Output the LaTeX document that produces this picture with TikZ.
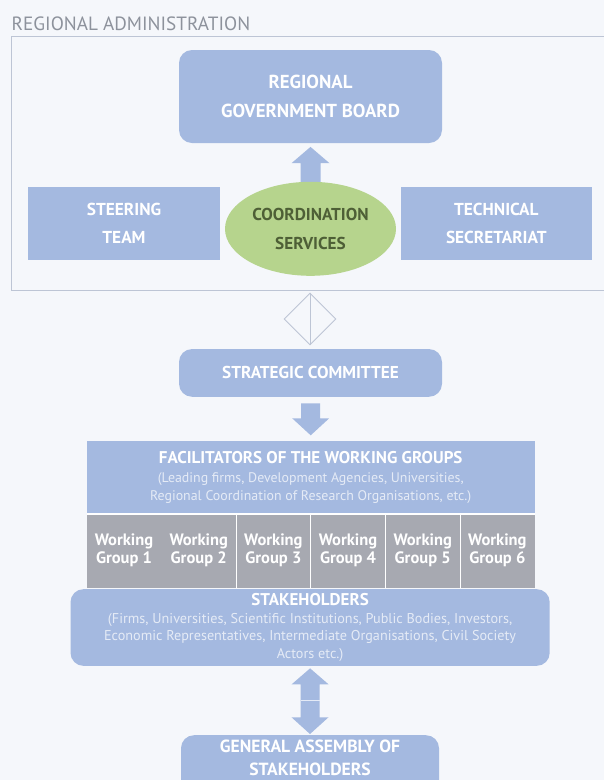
\documentclass[tikz,border=0pt]{standalone}
\usepackage{fontspec}
\setmainfont{PT Sans}
\usetikzlibrary{shapes.geometric,calc}
\definecolor{bg}{HTML}{F5F7FB}
\definecolor{boxblue}{HTML}{A4B9E0}
\definecolor{wggray}{HTML}{A7A9B1}
\definecolor{cgreen}{HTML}{B6D48D}
\definecolor{gtext}{HTML}{4E5F36}
\definecolor{framec}{HTML}{BDC5D5}
\definecolor{titlec}{HTML}{8D929C}
\colorlet{paren}{white!72!boxblue}
\begin{document}
\begin{tikzpicture}[x=1pt,y=-1pt,
  bluebox/.style={fill=boxblue, text=white, align=center, inner sep=0pt,
    font=\bfseries\fontsize{18.8}{28.3}\selectfont},
  rbox/.style={bluebox, rounded corners=13pt},
  wgbox/.style={fill=wggray, text=white, align=center, inner sep=0pt,
    minimum width=74.67pt, minimum height=74.4pt,
    font=\bfseries\fontsize{16.5}{18}\selectfont},
  fatarrow/.style={fill=boxblue},
  sepline/.style={draw=white, line width=1.1pt}
]
\useasboundingbox (0,0) rectangle (604,780);
\clip (0,0) rectangle (604,780);
\fill[bg] (0,0) rectangle (604,780);

% title and frame
\node[anchor=west, text=titlec, inner sep=0pt, font=\fontsize{19.2}{20}\selectfont] (title) at (11.5,23.5) {REGIONAL ADMINISTRATION};
\draw[framec, line width=0.9pt] (620,36) -- (11.5,36) -- (11.5,290) -- (620,290);

% regional administration
\node[rbox, minimum width=263pt, minimum height=93pt] (rgb) at (310.5,96.5) {REGIONAL\\GOVERNMENT BOARD};
\node[bluebox, minimum width=192pt, minimum height=73.3pt, font=\bfseries\fontsize{17.3}{28}\selectfont] (st) at (124,223.3) {STEERING\\TEAM};
\node[bluebox, minimum width=191.4pt, minimum height=73.3pt, font=\bfseries\fontsize{17.3}{28}\selectfont] (ts) at (496.3,223.3) {TECHNICAL\\SECRETARIAT};
\coordinate (csn) at (310.5,181.7);
\fill[fatarrow] ($(csn)+(-10,4)$) -- ($(rgb.south)+(-10,20)$) -- ($(rgb.south)+(-19,20)$) -- ($(rgb.south)+(0,3.7)$) -- ($(rgb.south)+(19,20)$) -- ($(rgb.south)+(10,20)$) -- ($(csn)+(10,4)$) -- cycle;
\node[ellipse, fill=cgreen, text=gtext, align=center, inner sep=0pt, minimum width=171pt, minimum height=94pt,
  font=\bfseries\fontsize{17.2}{29}\selectfont] (cs) at (310.5,228.8) {\raisebox{-3pt}{\begin{tabular}{@{}c@{}}COORDINATION\\SERVICES\end{tabular}}};

% diamond
\node[diamond, draw=framec, line width=0.9pt, aspect=1, inner sep=0pt, minimum width=52pt, minimum height=52pt] (dia) at (310,319) {};
\draw[framec, line width=0.9pt] (dia.north) -- (dia.south);

% strategic committee
\node[rbox, minimum width=263pt, minimum height=47.7pt, font=\bfseries\fontsize{17.2}{20}\selectfont] (sc) at (310.5,372.9) {STRATEGIC COMMITTEE};

% facilitators
\node[bluebox, minimum width=448pt, minimum height=72.6pt, font=\fontsize{13.9}{18.6}\selectfont] (fac) at (310.7,477.5)
  {{\bfseries\fontsize{17}{18.6}\selectfont FACILITATORS OF THE WORKING GROUPS}\\
   \textcolor{paren}{(Leading firms, Development Agencies, Universities,}\\
   \textcolor{paren}{Regional Coordination of Research Organisations, etc.)}};
\fill[fatarrow] ($(sc.south)+(-9.5,6.3)$) -- ($(fac.north)+(-9.5,-22.7)$) -- ($(fac.north)+(-18.5,-22.7)$) -- ($(fac.north)+(0,-5.7)$) -- ($(fac.north)+(18.5,-22.7)$) -- ($(fac.north)+(9.5,-22.7)$) -- ($(sc.south)+(9.5,6.3)$) -- cycle;

% working groups
\node[wgbox] (wg1) at (124.03,550.5) {Working\\Group 1};
\node[wgbox] (wg2) at (198.7,550.5) {Working\\Group 2};
\node[wgbox] (wg3) at (273.37,550.5) {Working\\Group 3};
\node[wgbox] (wg4) at (348.03,550.5) {Working\\Group 4};
\node[wgbox] (wg5) at (422.7,550.5) {Working\\Group 5};
\node[wgbox] (wg6) at (497.37,550.5) {Working\\Group 6};
\draw[sepline] (wg2.north east) -- (wg2.south east);
\draw[sepline] (wg3.north east) -- (wg3.south east);
\draw[sepline] (wg4.north east) -- (wg4.south east);
\draw[sepline] (wg5.north east) -- (wg5.south east);
\draw[sepline] (fac.south west) -- (fac.south east);

% stakeholders
\node[rbox, minimum width=479.2pt, minimum height=76.7pt, font=\fontsize{14.2}{17.8}\selectfont] (stk) at (310.1,627.5)
  {{\bfseries\fontsize{17}{17.8}\selectfont STAKEHOLDERS}\\
   \textcolor{paren}{(Firms, Universities, Scientific Institutions, Public Bodies, Investors,}\\
   \textcolor{paren}{Economic Representatives, Intermediate Organisations, Civil Society}\\
   \textcolor{paren}{Actors etc.)}};

% general assembly
\node[rbox, anchor=north, minimum width=258pt, inner ysep=5pt, text depth=25pt,
  font=\bfseries\fontsize{17.6}{22.7}\selectfont] (ga) at (310,735) {GENERAL ASSEMBLY OF\\STAKEHOLDERS};

% double arrow
\coordinate (mid) at (310,700);
\fill[fatarrow] ($(mid)+(-9.5,0)$) -- ($(stk.south)+(-9.5,18.3)$) -- ($(stk.south)+(-18.5,18.3)$) -- ($(stk.south)+(0,2.3)$) -- ($(stk.south)+(18.5,18.3)$) -- ($(stk.south)+(9.5,18.3)$) -- ($(mid)+(9.5,0)$) -- cycle;
\fill[fatarrow] ($(mid)+(-9.5,0)$) -- ($(ga.north)+(-9.5,-17.7)$) -- ($(ga.north)+(-18.5,-17.7)$) -- ($(ga.north)+(0,-1)$) -- ($(ga.north)+(18.5,-17.7)$) -- ($(ga.north)+(9.5,-17.7)$) -- ($(mid)+(9.5,0)$) -- cycle;
\draw[draw=white!70!boxblue, line width=0.8pt] ($(mid)+(-9.5,0)$) -- ($(mid)+(9.5,0)$);
\end{tikzpicture}
\end{document}
